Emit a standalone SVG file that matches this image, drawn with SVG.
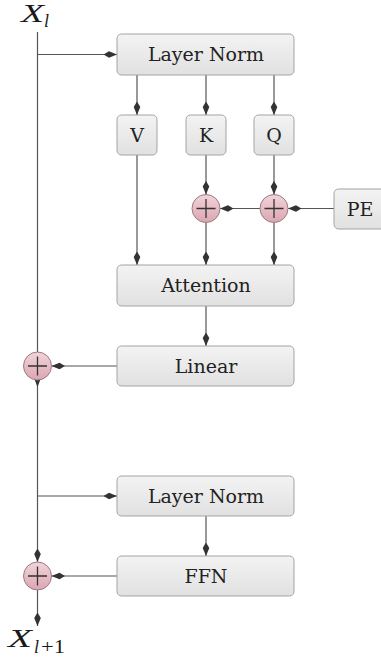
<svg xmlns="http://www.w3.org/2000/svg" width="381" height="660" viewBox="0 0 381 660">
<defs>
<linearGradient id="gbox" x1="0" y1="0" x2="0" y2="1">
<stop offset="0" stop-color="#f3f3f3"/>
<stop offset="1" stop-color="#e1e1e1"/>
</linearGradient>
<linearGradient id="gsum" x1="0" y1="0" x2="0" y2="1">
<stop offset="0" stop-color="#f2d4da"/>
<stop offset="1" stop-color="#dba6b1"/>
</linearGradient>
<marker id="ah" markerWidth="14" markerHeight="8" viewBox="-13.5 -4 14 8" refX="0" refY="0" orient="auto" markerUnits="userSpaceOnUse">
<path d="M0,0 L-8,-3.3 L-13.5,0 L-8,3.3 Z" fill="#333"/>
</marker>
</defs>
<style>
.box{fill:url(#gbox);stroke:#a3a3a3;stroke-width:1}
.sum{fill:url(#gsum);stroke:#9c7a82;stroke-width:1}
.plus{stroke:#333;stroke-width:1.3;fill:none}
.lbl{font-family:"DejaVu Serif","Liberation Serif",serif;font-size:19px;fill:#222;text-anchor:middle}
.math{font-family:"Liberation Serif","DejaVu Serif",serif;font-style:italic;fill:#1a1a1a}
.num{font-family:"Liberation Serif","DejaVu Serif",serif;fill:#1a1a1a}
.c{fill:none;stroke:#555;stroke-width:1.2}
.a{marker-end:url(#ah)}
</style>

<g id="connectors">
<path class="c" d="M37.5,32 V352"/>
<path class="c a" d="M37.5,380 V562"/>
<path d="M33.6,377 L37.5,387 L41.4,377 Z" fill="#333"/>
<path class="c a" d="M37.5,54.5 H117"/>
<path class="c a" d="M137,75 V115"/>
<path class="c a" d="M206,75 V115"/>
<path class="c a" d="M274,75 V115"/>
<path class="c a" d="M206,155 V194.5"/>
<path class="c a" d="M274,155 V194.5"/>
<path class="c a" d="M334,208.5 H288"/>
<path class="c a" d="M260,208.5 H220"/>
<path class="c a" d="M137,155 V265"/>
<path class="c a" d="M206,222.5 V265"/>
<path class="c a" d="M274,222.5 V265"/>
<path class="c a" d="M206,306 V346"/>
<path class="c a" d="M117,366 H51.5"/>
<path class="c a" d="M37.5,496 H117"/>
<path class="c a" d="M206,516 V556"/>
<path class="c a" d="M117,576 H51.5"/>
<path class="c a" d="M37.5,590 V626"/>
</g>

<g id="xl">
<text class="math" x="21" y="22" font-size="25" textLength="23" lengthAdjust="spacingAndGlyphs">X</text>
<text class="math" x="44" y="27" font-size="18">l</text>
</g>

<g id="layernorm1">
<rect class="box" x="117" y="34" width="177" height="41" rx="4.5"/>
<text class="lbl" x="206" y="61">Layer Norm</text>
</g>
<g id="v">
<rect class="box" x="117" y="115" width="40" height="40" rx="4.5"/>
<text class="lbl" x="137" y="142">V</text>
</g>
<g id="k">
<rect class="box" x="186" y="115" width="40" height="40" rx="4.5"/>
<text class="lbl" x="206" y="142">K</text>
</g>
<g id="q">
<rect class="box" x="254" y="115" width="40" height="40" rx="4.5"/>
<text class="lbl" x="274" y="142">Q</text>
</g>
<g id="sumk">
<circle class="sum" cx="206" cy="208.5" r="14"/>
<path class="plus" d="M196.5,208.5 H215.5 M206,199 V218"/>
</g>
<g id="sumq">
<circle class="sum" cx="274" cy="208.5" r="14"/>
<path class="plus" d="M264.5,208.5 H283.5 M274,199 V218"/>
</g>
<g id="pe">
<rect class="box" x="334" y="189" width="54" height="40" rx="4.5"/>
<text class="lbl" x="360" y="216">PE</text>
</g>
<g id="attention">
<rect class="box" x="117" y="265" width="177" height="41" rx="4.5"/>
<text class="lbl" x="206" y="292">Attention</text>
</g>
<g id="linear">
<rect class="box" x="117" y="346" width="177" height="40" rx="4.5"/>
<text class="lbl" x="206" y="372.5">Linear</text>
</g>
<g id="sum1">
<circle class="sum" cx="37.5" cy="366" r="14"/>
<path class="plus" d="M28,366 H47 M37.5,356.5 V375.5"/>
</g>
<g id="layernorm2">
<rect class="box" x="117" y="476" width="177" height="40" rx="4.5"/>
<text class="lbl" x="206" y="502.5">Layer Norm</text>
</g>
<g id="ffn">
<rect class="box" x="117" y="556" width="177" height="40" rx="4.5"/>
<text class="lbl" x="206" y="582.5">FFN</text>
</g>
<g id="sum2">
<circle class="sum" cx="37.5" cy="576" r="14"/>
<path class="plus" d="M28,576 H47 M37.5,566.5 V585.5"/>
</g>
<g id="xl1">
<text class="math" x="8" y="647" font-size="25" textLength="24" lengthAdjust="spacingAndGlyphs">X</text>
<text class="math" x="34" y="653" font-size="18">l</text>
<text class="num" x="41" y="653" font-size="18" textLength="24" lengthAdjust="spacingAndGlyphs">+1</text>
</g>
</svg>
